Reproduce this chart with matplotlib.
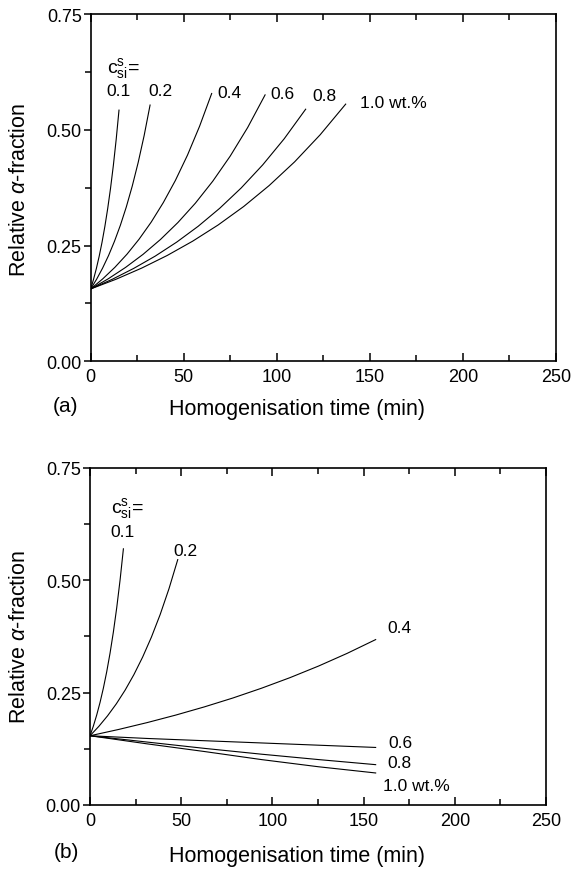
import matplotlib
matplotlib.use("Agg")
import matplotlib.pyplot as plt
from matplotlib.ticker import MultipleLocator

plt.rcParams['font.family'] = ['Liberation Sans', 'DejaVu Sans']
plt.rcParams['mathtext.fontset'] = 'custom'
plt.rcParams['mathtext.rm'] = 'Liberation Sans'
plt.rcParams['mathtext.it'] = 'Liberation Sans:italic'

# ---- data: panel (a) ----
series_names = ["0.1", "0.2", "0.4", "0.6", "0.8", "1.0 wt.%"]
a_t_01 = [0, 1.52, 3.04, 4.56, 6.08, 7.6, 9.12, 10.64, 12.16, 13.68, 15.2]
a_y_01 = [0.156, 0.1767, 0.2002, 0.2268, 0.2569, 0.2910, 0.3297, 0.3734, 0.4230, 0.4792, 0.543]
a_t_02 = [0, 3.19, 6.38, 9.57, 12.76, 15.95, 19.14, 22.33, 25.52, 28.71, 31.9]
a_y_02 = [0.156, 0.1771, 0.2010, 0.2281, 0.2590, 0.2939, 0.3336, 0.3787, 0.4299, 0.4879, 0.554]
a_t_04 = [0, 6.5, 13, 19.5, 26, 32.5, 39, 45.5, 52, 58.5, 65]
a_y_04 = [0.156, 0.1779, 0.2028, 0.2312, 0.2637, 0.3006, 0.3428, 0.3908, 0.4456, 0.5081, 0.579]
a_t_06 = [0, 9.37, 18.74, 28.11, 37.48, 46.85, 56.22, 65.59, 74.96, 84.33, 93.7]
a_y_06 = [0.156, 0.1778, 0.2026, 0.2308, 0.2630, 0.2997, 0.3415, 0.3892, 0.4435, 0.5053, 0.576]
a_t_08 = [0, 11.55, 23.1, 34.65, 46.2, 57.75, 69.3, 80.85, 92.4, 103.95, 115.5]
a_y_08 = [0.156, 0.1768, 0.2004, 0.2270, 0.2573, 0.2916, 0.3305, 0.3745, 0.4244, 0.4809, 0.545]
a_t_10 = [0, 13.7, 27.4, 41.1, 54.8, 68.5, 82.2, 95.9, 109.6, 123.3, 137.0]
a_y_10 = [0.156, 0.1771, 0.2011, 0.2284, 0.2594, 0.2945, 0.3344, 0.3798, 0.4312, 0.4897, 0.556]

# ---- data: panel (b) ----
b_t_01 = [0, 1.83, 3.66, 5.49, 7.32, 9.15, 10.98, 12.81, 14.64, 16.47, 18.3]
b_y_01 = [0.154, 0.1755, 0.2001, 0.2281, 0.2600, 0.2963, 0.3378, 0.3850, 0.4389, 0.5002, 0.570]
b_t_02 = [0, 4.81, 9.62, 14.43, 19.24, 24.05, 28.86, 33.67, 38.48, 43.29, 48.1]
b_y_02 = [0.154, 0.1748, 0.1984, 0.2251, 0.2555, 0.2900, 0.3292, 0.3736, 0.4240, 0.4812, 0.546]
b_t_04 = [0, 15.66, 31.32, 46.98, 62.64, 78.3, 93.96, 109.62, 125.28, 140.94, 156.6]
b_y_04 = [0.154, 0.1680, 0.1833, 0.2000, 0.2182, 0.2380, 0.2597, 0.2833, 0.3091, 0.3373, 0.368]
b_t_06 = [0, 31.3, 62.6, 94.0, 125.3, 156.6]
b_y_06 = [0.154, 0.148, 0.143, 0.138, 0.133, 0.128]
b_t_08 = [0, 31.3, 62.6, 94.0, 125.3, 156.6]
b_y_08 = [0.154, 0.140, 0.126, 0.113, 0.101, 0.0897]
b_t_10 = [0, 31.3, 62.6, 94.0, 125.3, 156.6]
b_y_10 = [0.154, 0.136, 0.119, 0.101, 0.085, 0.0712]

x_ticks = [0, 50, 100, 150, 200, 250]
y_ticks = [0.00, 0.25, 0.50, 0.75]

a_series = [(a_t_01, a_y_01), (a_t_02, a_y_02), (a_t_04, a_y_04),
            (a_t_06, a_y_06), (a_t_08, a_y_08), (a_t_10, a_y_10)]
b_series = [(b_t_01, b_y_01), (b_t_02, b_y_02), (b_t_04, b_y_04),
            (b_t_06, b_y_06), (b_t_08, b_y_08), (b_t_10, b_y_10)]

# label placement (data coords)
a_label_pos = [(14.9, 0.585, 'center'), (37.5, 0.585, 'center'), (74.6, 0.581, 'center'),
               (103.0, 0.579, 'center'), (125.6, 0.575, 'center'), (144.7, 0.560, 'left')]
b_label_pos = [(17.8, 0.609, 'center'), (52.1, 0.566, 'center'), (169.7, 0.394, 'center'),
               (170.2, 0.138, 'center'), (169.7, 0.0935, 'center'), (160.6, 0.0434, 'left')]

fig = plt.figure(figsize=(5.73, 8.70), dpi=100)
ax_a = fig.add_axes([0.1583, 0.5839, 0.8120, 0.3983])
ax_b = fig.add_axes([0.1571, 0.0736, 0.7958, 0.3874])


def style(ax):
    ax.set_xlim(0, 250)
    ax.set_ylim(0, 0.75)
    ax.set_xticks(x_ticks)
    ax.set_yticks(y_ticks)
    ax.set_yticklabels([f"{v:.2f}" for v in y_ticks])
    ax.xaxis.set_minor_locator(MultipleLocator(25))
    ax.yaxis.set_minor_locator(MultipleLocator(0.125))
    ax.tick_params(axis='x', which='both', direction='in', top=True, bottom=True,
                   labelsize=13, pad=5, width=1.1)
    ax.tick_params(axis='x', which='major', length=6)
    ax.tick_params(axis='x', which='minor', length=4)
    ax.tick_params(axis='y', which='both', direction='out', left=True, right=False,
                   labelsize=13, pad=1.5, width=1.1)
    ax.tick_params(axis='y', which='major', length=5)
    ax.tick_params(axis='y', which='minor', length=4)
    for s in ax.spines.values():
        s.set_linewidth(1.2)


for ax, series, lpos in [(ax_a, a_series, a_label_pos), (ax_b, b_series, b_label_pos)]:
    style(ax)
    for (t, y), name, (lx, ly, ha) in zip(series, series_names, lpos):
        ax.plot(t, y, color='black', lw=0.8)
        ax.text(lx, ly, name, ha=ha, va='center', fontsize=12.5)

clabel = r'c$^{\mathregular{s}}_{\mathregular{si}}$='
ax_a.text(8.5, 0.636, clabel, ha='left', va='center', fontsize=14)
ax_b.text(11.5, 0.661, clabel, ha='left', va='center', fontsize=14)

# axis labels and panel labels
ylab = r'Relative $\alpha$-fraction'
fig.text(20 / 573, 1 - 190 / 870, ylab, rotation=90, ha='center', va='center', fontsize=15.5)
fig.text(20 / 573, 1 - 637 / 870, ylab, rotation=90, ha='center', va='center', fontsize=15.5)
fig.text(297 / 573, 1 - 410 / 870, 'Homogenisation time (min)', ha='center', va='center', fontsize=15.5)
fig.text(297 / 573, 1 - 857 / 870, 'Homogenisation time (min)', ha='center', va='center', fontsize=15.5)
fig.text(66 / 573, 1 - 407 / 870, '(a)', ha='center', va='center', fontsize=15)
fig.text(66 / 573, 1 - 853 / 870, '(b)', ha='center', va='center', fontsize=15)

fig.savefig('out.png', dpi=100)
